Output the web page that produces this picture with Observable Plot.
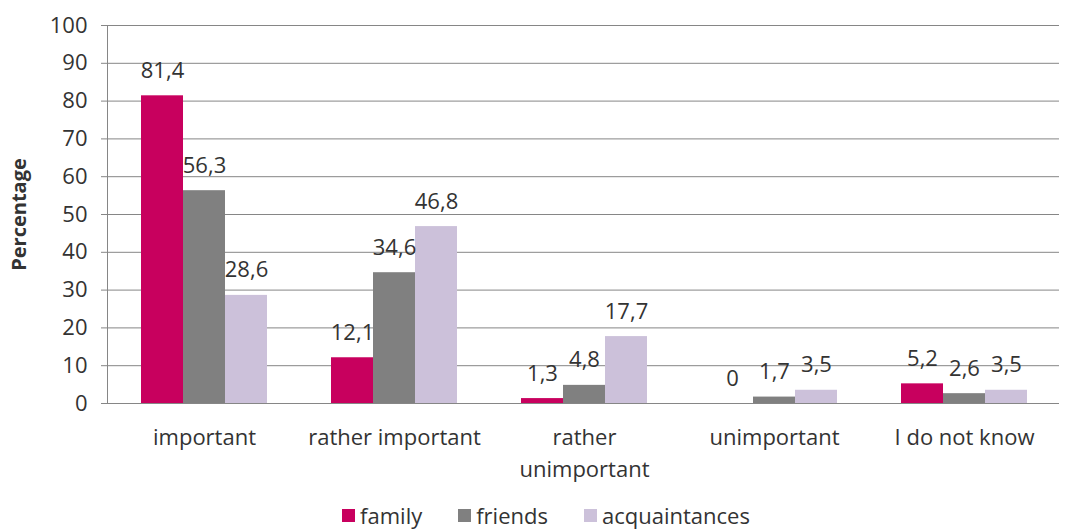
<!DOCTYPE html>
<html><head><meta charset="utf-8">
<script src="https://cdn.jsdelivr.net/npm/d3@7"></script>
<script src="https://cdn.jsdelivr.net/npm/@observablehq/plot@0.6"></script>
<style>
body{margin:0;background:#fff;font-family:"Open Sans",sans-serif;}
#legend{display:flex;justify-content:center;align-items:center;gap:36px;font-size:22px;color:#333;height:28px;padding-left:27px;line-height:1;}
#legend span.item{display:flex;align-items:center;gap:5px;}
#legend span.sw{display:inline-block;width:13px;height:13px;}
</style></head><body>
<div id="chart"></div>
<div id="legend"></div>
<script>
const categories = ["important", "rather important", "rather unimportant", "unimportant", "I do not know"];
const categoryLabels = ["important", "rather important", "rather\nunimportant", "unimportant", "I do not know"];
const seriesNames = ["family", "friends", "acquaintances"];
const family = [81.4, 12.1, 1.3, 0, 5.2];
const friends = [56.3, 34.6, 4.8, 1.7, 2.6];
const acquaintances = [28.6, 46.8, 17.7, 3.5, 3.5];
const seriesColors = ["#c8005e", "#808080", "#ccc1da"];
const yTicks = [0, 10, 20, 30, 40, 50, 60, 70, 80, 90, 100];

const seriesValues = [family, friends, acquaintances];
const table = [];
categories.forEach((c, i) => seriesNames.forEach((s, j) => table.push({category: c, series: s, value: seriesValues[j][i]})));
const labelOf = new Map(categories.map((c, i) => [c, categoryLabels[i]]));
const fmt = v => String(v).replace(".", ",");

const chart = Plot.plot({
  width: 1065, height: 501,
  marginLeft: 107, marginRight: 5, marginTop: 25, marginBottom: 98,
  style: {fontFamily: "'Open Sans', sans-serif", fontSize: "22px", color: "#333", background: "#fff"},
  fx: {domain: categories, padding: 0, label: null},
  x: {domain: seriesNames, paddingInner: 0, paddingOuter: 0.72, axis: null},
  y: {domain: [0, 100]},
  color: {domain: seriesNames, range: seriesColors},
  marks: [
    Plot.gridY(yTicks, {stroke: "#868686", strokeOpacity: 1}),
    Plot.axisY(yTicks, {tickSize: 8, tickPadding: 14, stroke: "#868686", label: "Percentage", labelAnchor: "center", labelOffset: 98, labelArrow: "none", fontSize: 22}),
    Plot.axisFx({anchor: "bottom", tickSize: 0, tickPadding: 19, tickFormat: d => labelOf.get(d), lineHeight: 1.45, fontSize: 22, label: null}),
    Plot.barY(table, {fx: "category", x: "series", y: "value", fill: "series"}),
    Plot.text(table, {fx: "category", x: "series", y: "value", text: d => fmt(d.value), dy: -25, fontSize: 22, fill: "#333"}),
    Plot.ruleY([0], {stroke: "#868686"})
  ]
});
document.getElementById("chart").appendChild(chart);

// vertical axis line at the left of the frame
const ys = chart.scale("y");
d3.select(chart).append("line")
  .attr("x1", 107.5).attr("x2", 107.5)
  .attr("y1", ys.apply(0)).attr("y2", ys.apply(100))
  .attr("stroke", "#868686");
d3.select(chart).selectAll('[aria-label="y-axis label"] text, g[aria-label="y-axis label"]')
  .attr("font-weight", "bold").attr("font-size", 20);

const legend = d3.select("#legend");
seriesNames.forEach((s, i) => {
  const it = legend.append("span").attr("class", "item");
  it.append("span").attr("class", "sw").style("background", seriesColors[i]);
  it.append("span").text(s);
});
</script>
</body></html>
